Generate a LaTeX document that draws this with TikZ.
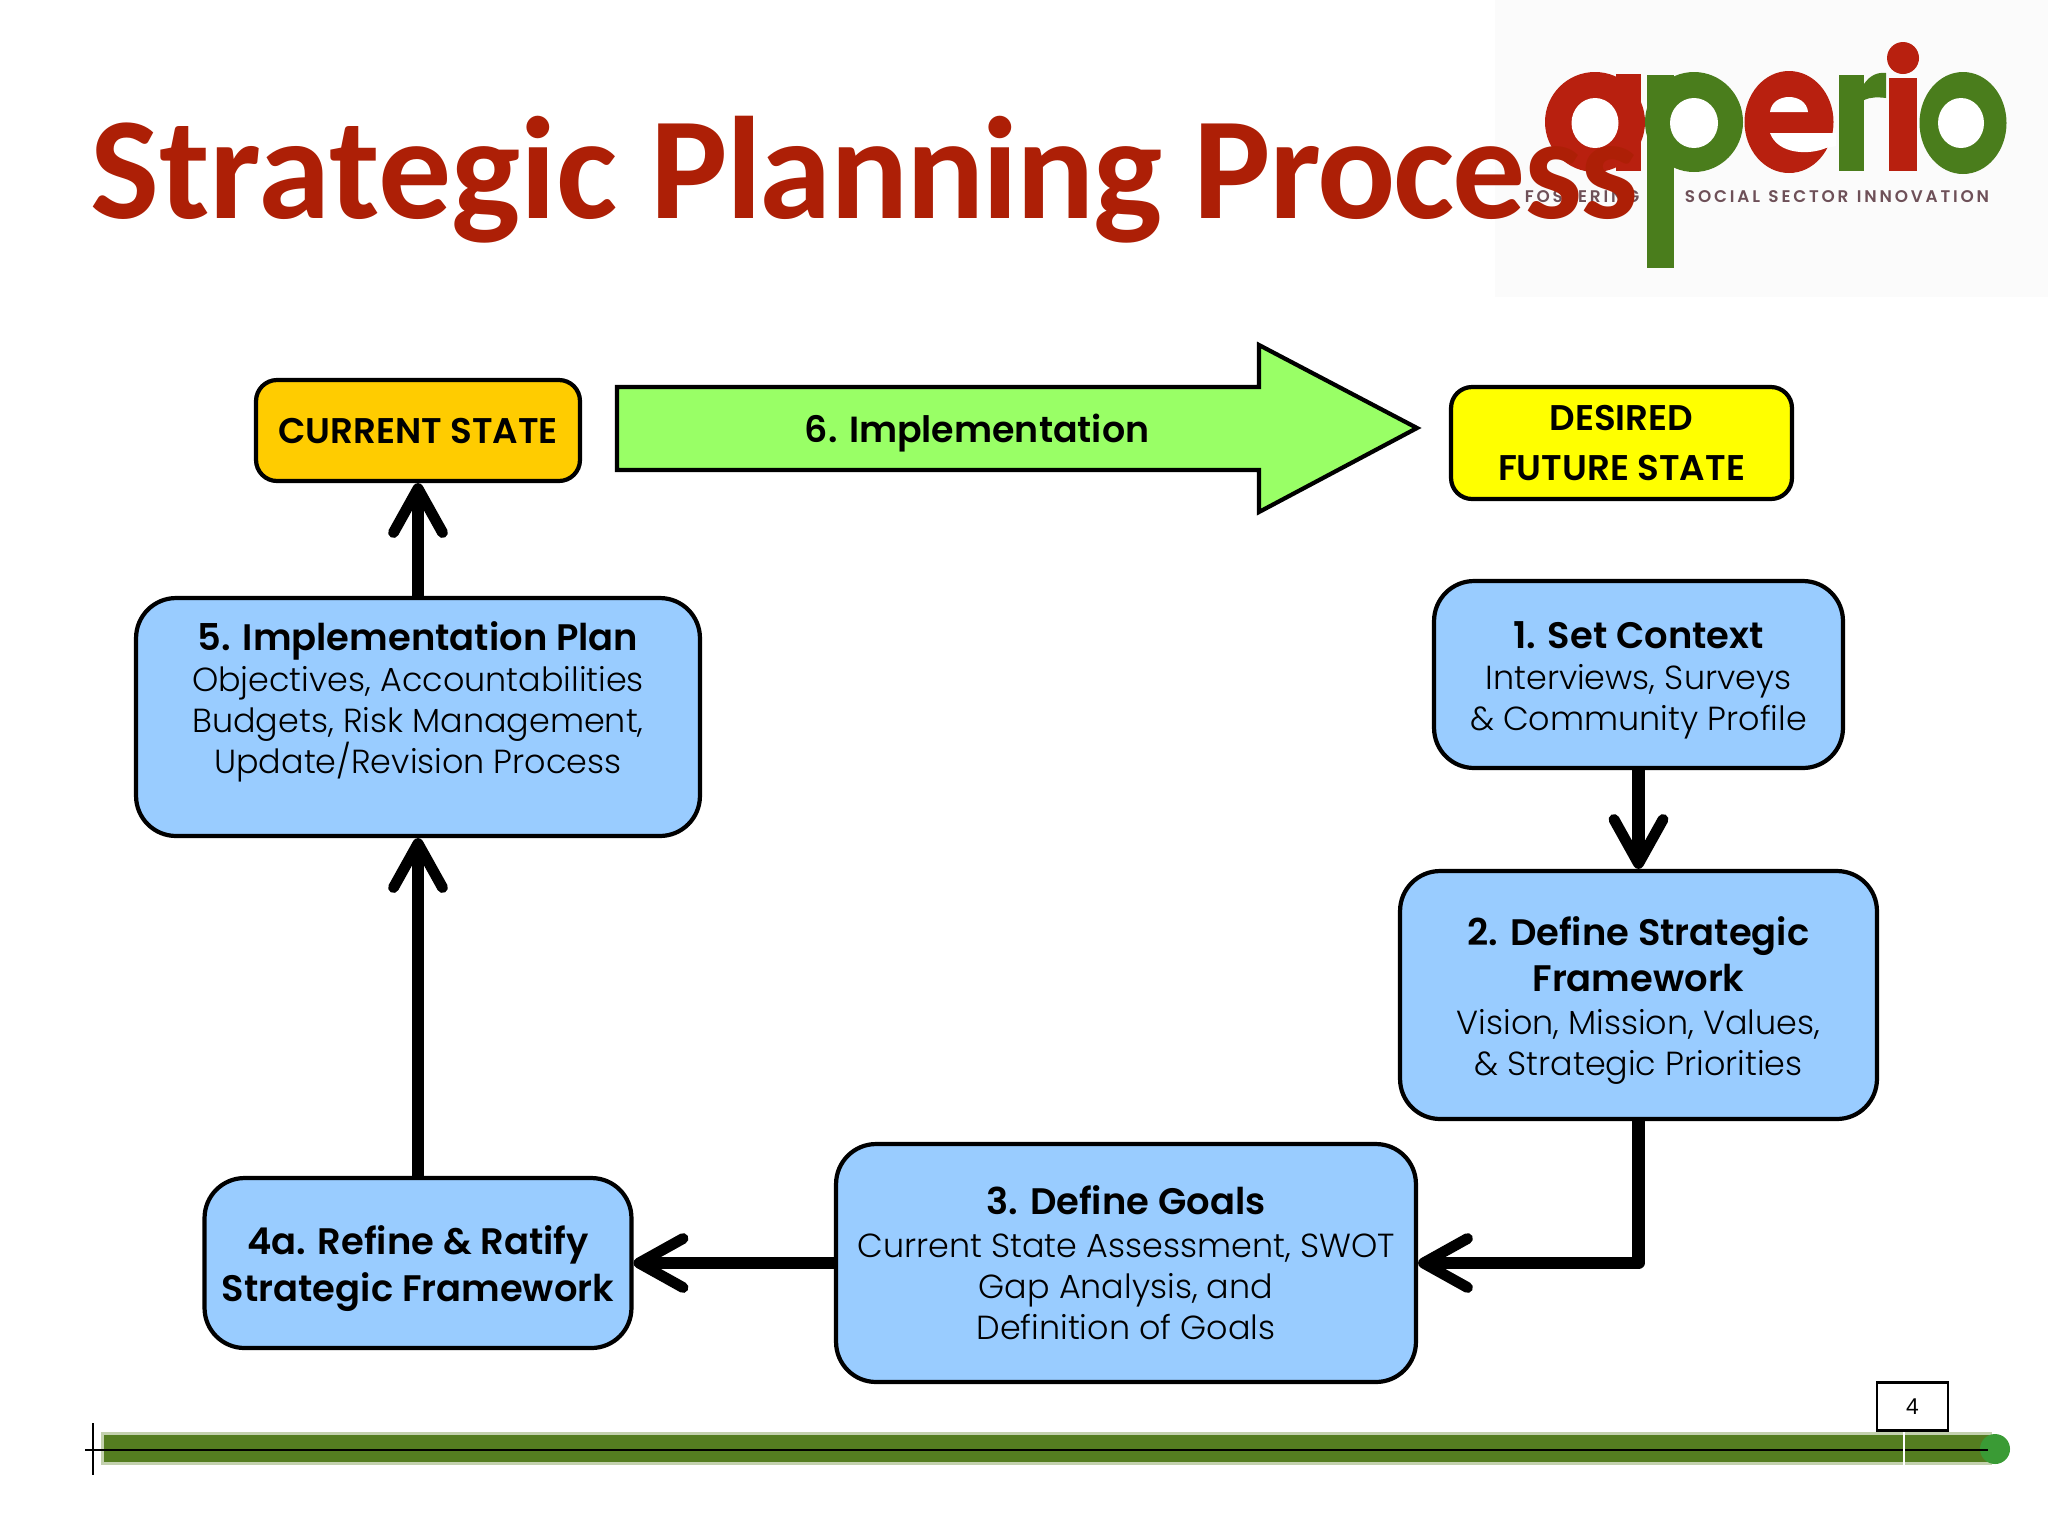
\documentclass[tikz,border=0pt]{standalone}
\usepackage{fontspec}
\usetikzlibrary{arrows.meta}
\setmainfont{Carlito}
\newfontfamily\qs{Poppins Light}[BoldFont={Poppins SemiBold}]
\definecolor{boxblue}{HTML}{99CCFF}
\definecolor{titlered}{HTML}{AD1F06}
\definecolor{logogreen}{HTML}{4A7D1C}
\definecolor{logored}{HTML}{B8200F}
\definecolor{tagcol}{HTML}{6E5058}
\definecolor{barlight}{HTML}{C3D1AE}
\definecolor{bargreen}{HTML}{547D20}
\definecolor{dotgreen}{HTML}{3A9B35}
\definecolor{stateorange}{HTML}{FFCC00}
\definecolor{stateyellow}{HTML}{FFFF00}
\definecolor{arrowgreen}{HTML}{99FF66}
\newcommand{\hd}[1]{{\qs\bfseries\fontsize{21}{27}\selectfont #1}}
\tikzset{x=0.02cm,y=-0.02cm,
 box/.style={draw=black,line width=2.4pt,rounded corners=0.8cm,fill=boxblue,align=center,inner sep=0pt,font=\qs\fontsize{19}{23.4}\selectfont},
 statebox/.style={draw=black,line width=2.4pt,rounded corners=0.42cm,align=center,inner sep=0pt,font=\qs\bfseries\fontsize{20.3}{27}\selectfont},
 flow/.style={line width=7pt,line join=round,-{Straight Barb[length=0.88cm,width=0.98cm,line width=6.2pt,round]}},
 logor/.style={fill=logored},
 logog/.style={fill=logogreen},
 hole/.style={fill=white},
}
\begin{document}
\begin{tikzpicture}
\useasboundingbox (0,0) rectangle (2048,1536);
\fill[white] (0,0) rectangle (2048,1536);
\fill[black!1.5] (1495,0) rectangle (2048,297);
% logo: a
\fill[logor] (1595,122) ellipse [x radius=50,y radius=50];
\fill[logor] (1616,74) rectangle (1641,171);
\fill[hole] (1595,123) ellipse [x radius=23.5,y radius=25];
% logo: p
\fill[logog] (1694,122) ellipse [x radius=49,y radius=50];
\fill[logog] (1647,75) rectangle (1674,268);
\fill[hole] (1694,123) ellipse [x radius=24,y radius=25];
% logo: e
\fill[logor] (1789,122) ellipse [x radius=44.5,y radius=51];
\fill[hole] (1770,112) .. controls (1772,92) and (1806,92) .. (1808,112) -- cycle;
\fill[hole] (1770,133) -- (1836,133) -- (1836,146) -- (1826,148) .. controls (1810,155) and (1778,155) .. (1770,133) -- cycle;
% logo: r
\fill[logog] (1839,75) rectangle (1864,171);
\fill[logog] (1864,100) .. controls (1870,97) and (1878,97) .. (1886,98) -- (1886,73) .. controls (1878,72) and (1870,75) .. (1864,84) -- cycle;
% logo: i
\fill[logor] (1889,78) rectangle (1917,171);
\fill[logor] (1903,58) circle [radius=16];
% logo: o
\fill[logog] (1963,123) ellipse [x radius=43.5,y radius=51];
\fill[hole] (1961,123) ellipse [x radius=23,y radius=25];
% logo tagline
\node[anchor=center,font=\qs\bfseries\fontsize{9.6}{10}\selectfont,text=tagcol] (tag1) at (1582,197) {F\,O\,S\,T\,E\,R\,I\,N\,G};
\node[anchor=center,font=\qs\bfseries\fontsize{9.6}{10}\selectfont,text=tagcol] (tag2) at (1837,197) {S\,O\,C\,I\,A\,L\,\,\,S\,E\,C\,T\,O\,R\,\,\,I\,N\,N\,O\,V\,A\,T\,I\,O\,N};
% title
\node[anchor=base west,inner sep=0pt,text=titlered,font=\bfseries\fontsize{83}{90}\selectfont] (title) at (90,218) {Strategic {\addfontfeature{LetterSpace=-1.3}Planning Process}};
% state boxes
\node[statebox,fill=stateorange,minimum width=6.48cm,minimum height=2.02cm] (cs) at (418,430.5) {CURRENT STATE};
\node[statebox,fill=stateyellow,minimum width=6.82cm,minimum height=2.24cm] (fs) at (1621.5,443) {DESIRED\\[1pt]FUTURE STATE};
% implementation arrow
\draw[line width=2.4pt,line join=miter,fill=arrowgreen] (617,387) -- (1259,387) -- (1259,345) -- (1417,428) -- (1259,512) -- (1259,470) -- (617,470) -- cycle;
\node[inner sep=0pt,font=\qs\bfseries\fontsize{20.7}{27}\selectfont] (impl) at (977,433) {6. Implementation};
% process boxes
\node[box,minimum width=8.18cm,minimum height=3.74cm] (b1) at (1638.5,674.5) {\mbox{}\\[-1.8pt]\hd{1. Set Context}\\Interviews, Surveys\\\& Community Profile};
\node[box,minimum width=9.54cm,minimum height=4.96cm] (b2) at (1638.5,995) {\mbox{}\\[-0.4pt]\hd{2. Define Strategic}\\[3pt]\hd{Framework}\\[1pt]Vision, Mission, Values,\\\& Strategic Priorities};
\node[box,minimum width=11.6cm,minimum height=4.76cm] (b3) at (1126,1263) {\hd{3. Define Goals}\\[1pt]Current State Assessment, SWOT\\Gap Analysis, and\\Definition of Goals};
\node[box,minimum width=8.54cm,minimum height=3.4cm] (b4) at (418,1263) {\mbox{}\\[-0.4pt]\hd{4a. Refine \& Ratify}\\[3.5pt]\hd{Strategic Framework}};
\node[box,minimum width=11.28cm,minimum height=4.76cm] (b5) at (418,717) {\hd{5. Implementation Plan}\\Objectives, Accountabilities\\Budgets, Risk Management,\\Update/Revision Process\\[-1pt]\mbox{}};
% connectors
\draw[flow] (b5.north) -- (cs.south);
\draw[flow] (b4.north) -- (b5.south);
\draw[flow] (b1.south) -- (b2.north);
\draw[flow] (b2.south) |- (b3.east);
\draw[flow] (b3.west) -- (b4.east);
% footer
\fill[barlight] (101,1432) rectangle (1992,1465);
\fill[bargreen] (104,1435) rectangle (1990,1462);
\fill[dotgreen] (1995,1449) circle [radius=15];
\coordinate (barL) at (85,1450);
\coordinate (barR) at (1988,1450);
\draw[line width=1.6pt] (barL) -- (barR);
\draw[line width=1.6pt] (93,1423) -- (93,1475);
\draw[white,line width=1.6pt] (1904,1432) -- (1904,1465);
\node[draw=black,line width=1.6pt,fill=white,minimum width=1.42cm,minimum height=0.96cm,inner sep=0pt,font=\fontspec{Liberation Sans}\fontsize{13}{15}\selectfont] (page) at (1912.5,1406.5) {4};
\end{tikzpicture}
\end{document}
